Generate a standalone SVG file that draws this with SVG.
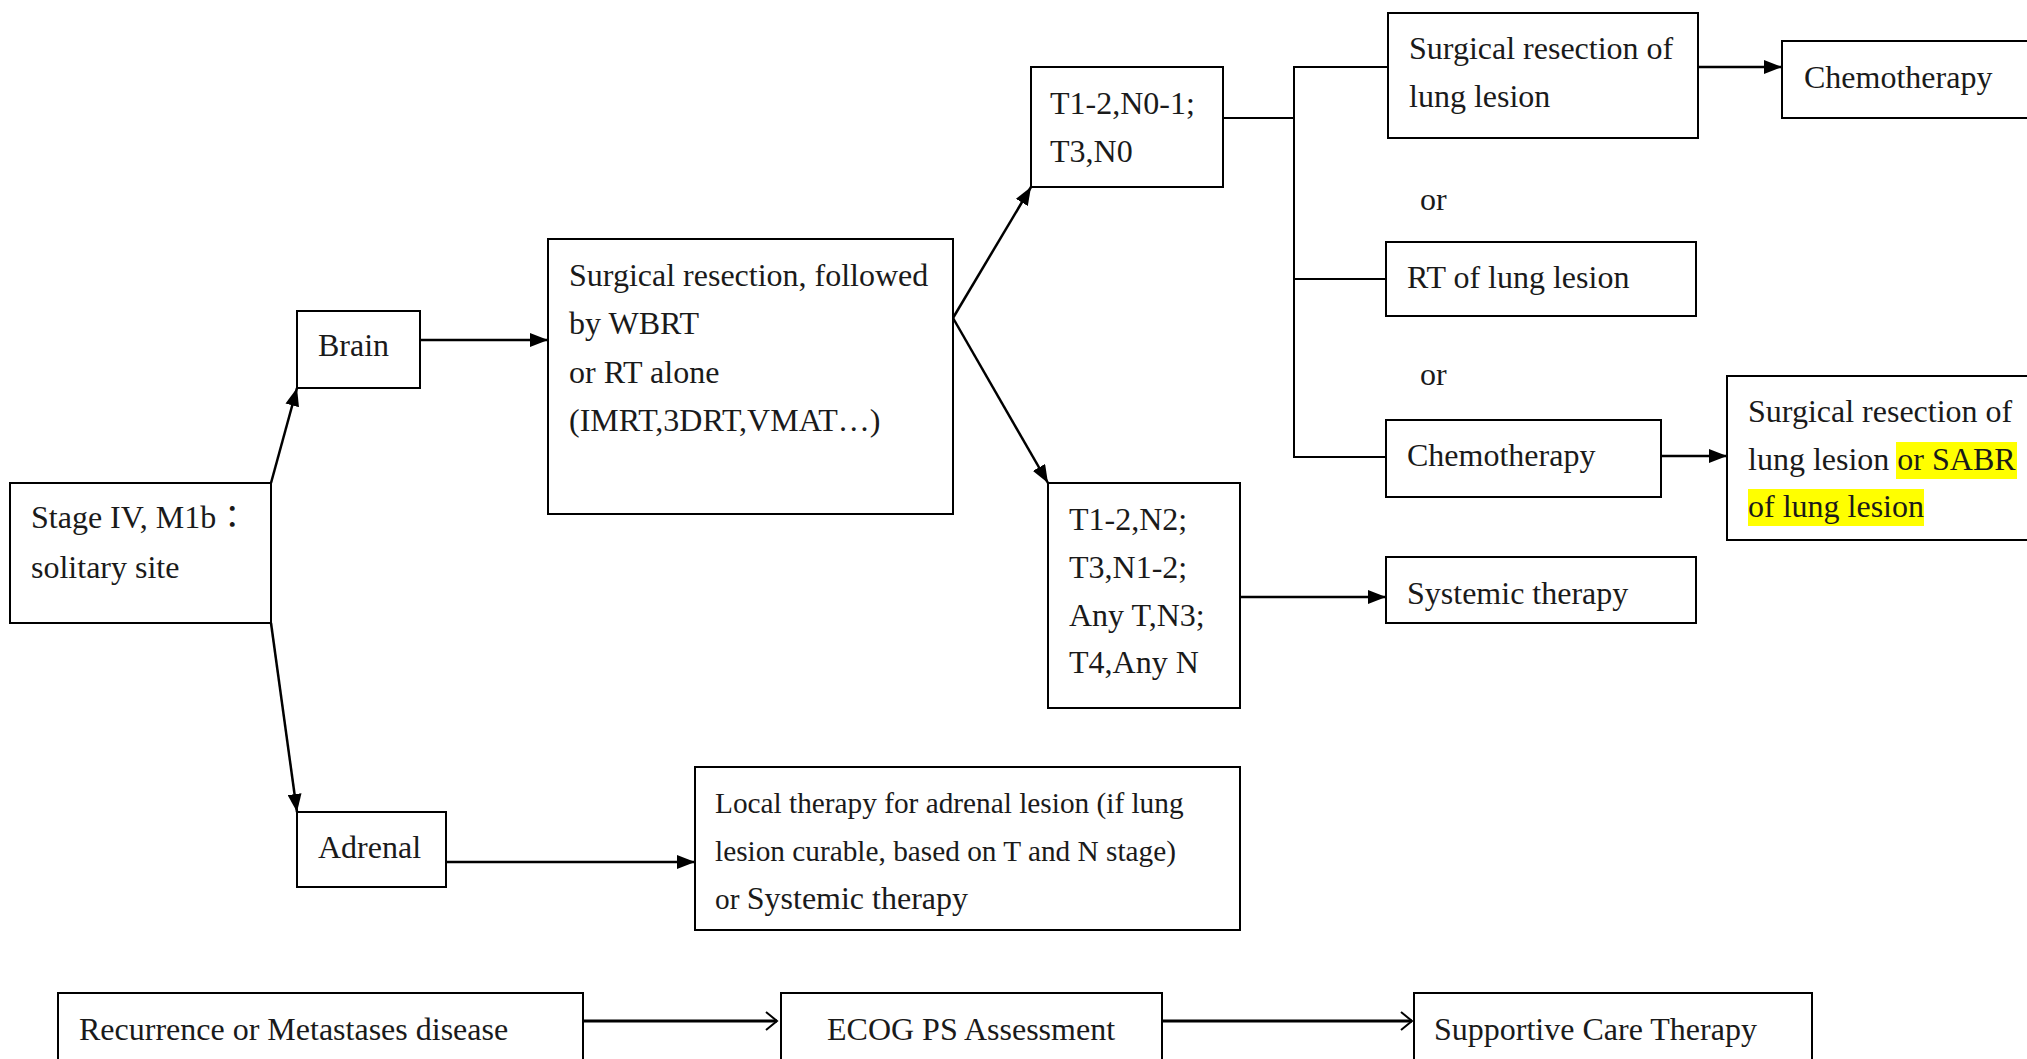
<svg xmlns="http://www.w3.org/2000/svg" width="2027" height="1059" viewBox="0 0 2027 1059">
<style>
  .box { fill: #ffffff; stroke: #000000; stroke-width: 2; }
  .t { font-family: "Liberation Serif", "Times New Roman", "Noto Sans CJK TC", serif; font-size: 32px; fill: #1a1a1a; }
  .ts { font-family: "Liberation Serif", "Times New Roman", serif; font-size: 29.3px; fill: #1a1a1a; }
  .ln { fill: none; stroke: #000000; stroke-width: 2; }
  .ar { fill: none; stroke: #000000; stroke-width: 2.5; marker-end: url(#tri); }
  .ao { fill: none; stroke: #000000; stroke-width: 3; marker-end: url(#open); }
  .hl { fill: #ffff00; }
</style>
<defs>
  <marker id="tri" markerUnits="userSpaceOnUse" markerWidth="18" markerHeight="14" viewBox="0 0 18 14" refX="18" refY="7" orient="auto">
    <path d="M0,0 L18,7 L0,14 z" fill="#000000"/>
  </marker>
  <marker id="open" markerUnits="userSpaceOnUse" markerWidth="14" markerHeight="20" viewBox="0 0 14 20" refX="12" refY="10" orient="auto">
    <path d="M1,1 L12,10 L1,19" fill="none" stroke="#000000" stroke-width="2"/>
  </marker>
</defs>
<rect width="2027" height="1059" fill="#ffffff"/>

<g id="connectors">
  <path class="ar" d="M271,483 L297,388"/>
  <path class="ar" d="M271,623 L297,812"/>
  <path class="ar" d="M420,340 L548,340"/>
  <path class="ar" d="M953,318 L1031,187"/>
  <path class="ar" d="M953,318 L1048,483"/>
  <path class="ln" d="M1223,118 L1294,118"/>
  <path class="ln" d="M1388,67 L1294,67 L1294,457 L1386,457"/>
  <path class="ln" d="M1294,279 L1386,279"/>
  <path class="ar" d="M1698,67 L1782,67"/>
  <path class="ar" d="M1661,456 L1727,456"/>
  <path class="ar" d="M1240,597 L1386,597"/>
  <path class="ar" d="M446,862 L695,862"/>
  <path class="ao" d="M583,1021 L777,1021"/>
  <path class="ao" d="M1162,1021 L1412,1021"/>
</g>

<g id="stage">
  <rect class="box" x="10" y="483" width="261" height="140"/>
  <text class="t" x="31" y="528">Stage IV, M1b：</text>
  <text class="t" x="31" y="578">solitary site</text>
</g>

<g id="brain">
  <rect class="box" x="297" y="311" width="123" height="77"/>
  <text class="t" x="318" y="356">Brain</text>
</g>

<g id="brain-treatment">
  <rect class="box" x="548" y="239" width="405" height="275"/>
  <text class="t" x="569" y="286">Surgical resection, followed</text>
  <text class="t" x="569" y="334">by WBRT</text>
  <text class="t" x="569" y="383">or RT alone</text>
  <text class="t" x="569" y="431">(IMRT,3DRT,VMAT…)</text>
</g>

<g id="early-stage">
  <rect class="box" x="1031" y="67" width="192" height="120"/>
  <text class="t" x="1050" y="114">T1-2,N0-1;</text>
  <text class="t" x="1050" y="162">T3,N0</text>
</g>

<g id="surgical-lung">
  <rect class="box" x="1388" y="13" width="310" height="125"/>
  <text class="t" x="1409" y="59">Surgical resection of</text>
  <text class="t" x="1409" y="107">lung lesion</text>
</g>

<g id="chemo-top">
  <rect class="box" x="1782" y="41" width="260" height="77"/>
  <text class="t" x="1804" y="88">Chemotherapy</text>
</g>

<g id="or-labels">
  <text class="t" x="1420" y="210">or</text>
  <text class="t" x="1420" y="385">or</text>
</g>

<g id="rt-lung">
  <rect class="box" x="1386" y="242" width="310" height="74"/>
  <text class="t" x="1407" y="288">RT of lung lesion</text>
</g>

<g id="chemo-mid">
  <rect class="box" x="1386" y="420" width="275" height="77"/>
  <text class="t" x="1407" y="466">Chemotherapy</text>
</g>

<g id="sabr">
  <rect class="box" x="1727" y="376" width="320" height="164"/>
  <rect class="hl" x="1896" y="442" width="121" height="37"/>
  <rect class="hl" x="1748" y="489" width="176" height="37"/>
  <text class="t" x="1748" y="422">Surgical resection of</text>
  <text class="t" x="1748" y="470">lung lesion or SABR</text>
  <text class="t" x="1748" y="517">of lung lesion</text>
</g>

<g id="advanced-stage">
  <rect class="box" x="1048" y="483" width="192" height="225"/>
  <text class="t" x="1069" y="530">T1-2,N2;</text>
  <text class="t" x="1069" y="578">T3,N1-2;</text>
  <text class="t" x="1069" y="626">Any T,N3;</text>
  <text class="t" x="1069" y="673">T4,Any N</text>
</g>

<g id="systemic">
  <rect class="box" x="1386" y="557" width="310" height="66"/>
  <text class="t" x="1407" y="604">Systemic therapy</text>
</g>

<g id="adrenal">
  <rect class="box" x="297" y="812" width="149" height="75"/>
  <text class="t" x="318" y="858">Adrenal</text>
</g>

<g id="adrenal-treatment">
  <rect class="box" x="695" y="767" width="545" height="163"/>
  <text class="ts" x="715" y="813">Local therapy for adrenal lesion (if lung</text>
  <text class="ts" x="715" y="861">lesion curable, based on T and N stage)</text>
  <text class="ts" x="715" y="909">or <tspan class="t">Systemic therapy</tspan></text>
</g>

<g id="recurrence">
  <rect class="box" x="58" y="993" width="525" height="80"/>
  <text class="t" x="79" y="1040">Recurrence or Metastases disease</text>
</g>

<g id="ecog">
  <rect class="box" x="781" y="993" width="381" height="80"/>
  <text class="t" x="827" y="1040">ECOG PS Assessment</text>
</g>

<g id="supportive">
  <rect class="box" x="1414" y="993" width="398" height="80"/>
  <text class="t" x="1434" y="1040">Supportive Care Therapy</text>
</g>
</svg>
